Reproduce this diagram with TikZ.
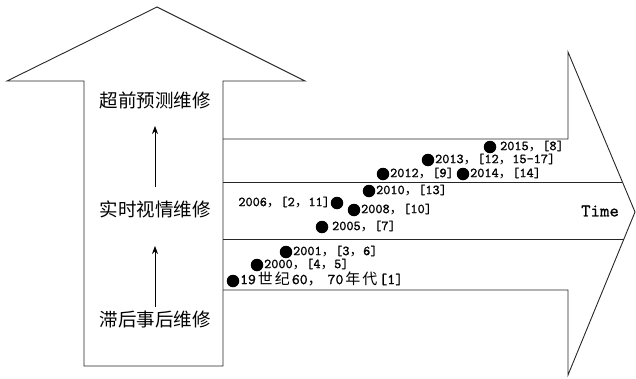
\documentclass[tikz,border=0pt]{standalone}
\usepackage{fontspec}
\newfontfamily\cjk{Noto Sans CJK SC}
\newfontfamily\yrfont{lmmono10-regular}[Extension=.otf,FakeBold=1.2]
\newfontfamily\timefont{lmmono10-regular}[Extension=.otf,FakeBold=0.6]
\usetikzlibrary{arrows.meta}
\newcommand\cc[1]{{\cjk #1}}
\begin{document}
\begin{tikzpicture}[x=1pt,y=-1pt,
  outline/.style={draw=black!85,line width=0.9pt,line join=miter},
  stage/.style={font=\cjk\fontsize{18.5}{18.5}\selectfont,inner sep=0pt,text height=0.88em,text depth=0.12em},
  dot/.style={circle,fill=black,inner sep=0pt,minimum size=12.5pt},
  yr/.style={font=\yrfont\fontsize{13.6}{13.6}\selectfont,inner sep=0.5pt,text height=0.62em,text depth=0pt},
  upar/.style={line width=0.8pt,-{Stealth[length=8pt,width=6pt]}}]
\useasboundingbox (0,0) rectangle (636,378);
% up arrow
\draw[outline] (84,366) -- (84,81) -- (7,81) -- (157,7) -- (305,81) -- (223,81) -- (223,366) -- cycle;
% right arrow
\draw[outline] (223,139) -- (568,139) -- (568,52) -- (635,212) -- (568,375) -- (568,290) -- (223,290);
\draw[outline] (223,182) -- (622.3,182);
\draw[outline] (223,239) -- (624.1,239);
% stage labels
\node[stage] (top) at (155,104) {超前预测维修};
\node[stage] (mid) at (155,213) {实时视情维修};
\node[stage] (bot) at (155,323) {滞后事后维修};
\draw[upar,shorten <=20.75pt,shorten >=16.75pt] (mid.north) -- (top.south);
\draw[upar,shorten <=10.75pt,shorten >=27.75pt] (bot.north) -- (mid.south);
% time label
\node[font=\timefont\fontsize{18}{18}\selectfont,inner sep=0pt] (time) at (600,211) {Time};
% events
\node[dot] (d15) at (490,147) {};
\node[yr,anchor=west] (t15) at ([xshift=3pt]d15.east) {2015\cc{，}[8]};
\node[dot] (d13) at (428,160) {};
\node[yr,anchor=west] (t13) at (d13.east) {2013\cc{，}[12\cc{，}15-17]};
\node[dot] (d12) at (383,174) {};
\node[yr,anchor=west] (t12) at (d12.east) {2012\cc{，}[9]};
\node[dot] (d14) at (463,174) {};
\node[yr,anchor=west] (t14) at (d14.east) {2014\cc{，}[14]};
\node[dot] (d10) at (369,191) {};
\node[yr,anchor=west] (t10) at (d10.east) {2010\cc{，}[13]};
\node[dot] (d06) at (337,203) {};
\node[yr,anchor=east] (t06) at (d06.west) {2006\cc{，}[2\cc{，}11]};
\node[dot] (d08) at (354,210) {};
\node[yr,anchor=west] (t08) at (d08.east) {2008\cc{，}[10]};
\node[dot] (d05) at (322,227) {};
\node[yr,anchor=west] (t05) at ([xshift=3pt]d05.east) {2005\cc{，}[7]};
\node[dot] (d01) at (286,252) {};
\node[yr,anchor=west] (t01) at (d01.east) {2001\cc{，}[3\cc{，}6]};
\node[dot] (d00) at (257,265) {};
\node[yr,anchor=west] (t00) at (d00.east) {2000\cc{，}[4\cc{，}5]};
\node[dot] (d19) at (233,281) {};
\node[yr,anchor=west,font=\yrfont\fontsize{15}{15}\selectfont] (t19) at (d19.east) {19\hspace{2pt}\cc{世\hspace{2pt}纪}\hspace{2pt}60\cc{，}\hspace{5pt}70\hspace{2pt}\cc{年\hspace{2pt}代}\hspace{2pt}[1]};
\end{tikzpicture}
\end{document}
